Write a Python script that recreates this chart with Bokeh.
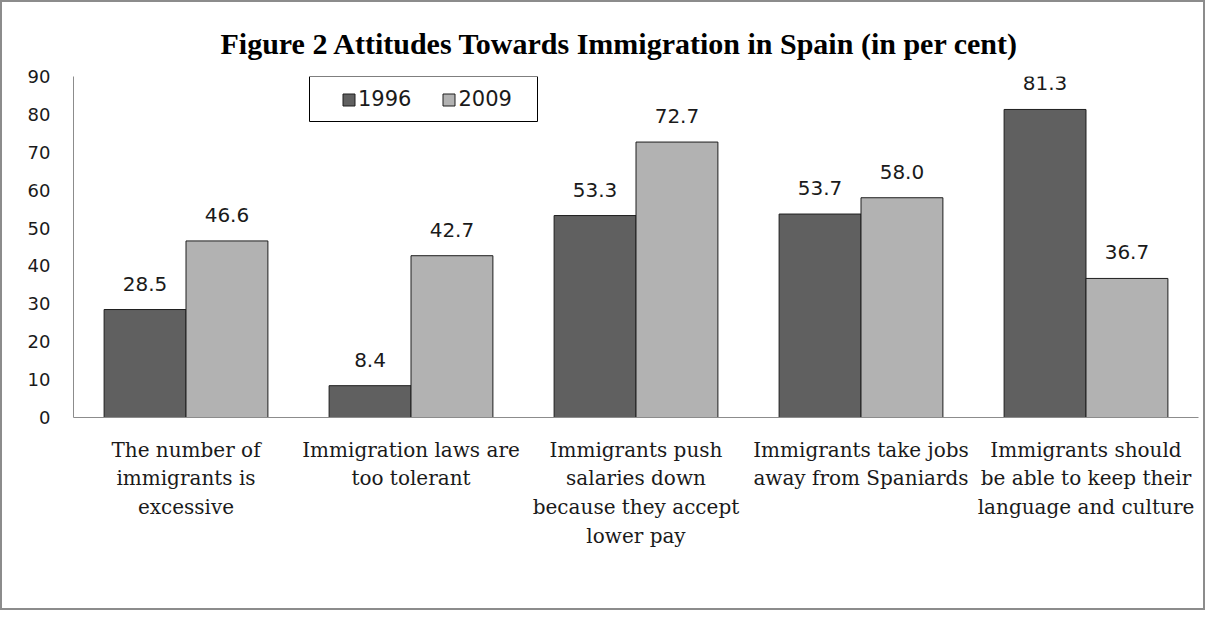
from bokeh.plotting import figure
from bokeh.models import (ColumnDataSource, FactorRange, Range1d, LabelSet, Legend,
                          LegendItem, BoxAnnotation, FixedTicker)
from bokeh.core.properties import value
from bokeh.transform import dodge
from bokeh.embed import file_html
from bokeh.resources import INLINE

# ---- data ----
categories = [
    "The number of\nimmigrants is\nexcessive",
    "Immigration laws are\ntoo tolerant",
    "Immigrants push\nsalaries down\nbecause they accept\nlower pay",
    "Immigrants take jobs\naway from Spaniards",
    "Immigrants should\nbe able to keep their\nlanguage and culture",
]
series = ["1996", "2009"]
values_1996 = [28.5, 8.4, 53.3, 53.7, 81.3]
values_2009 = [46.6, 42.7, 72.7, 58.0, 36.7]
y_ticks = [0, 10, 20, 30, 40, 50, 60, 70, 80, 90]
title_text = "Figure 2 Attitudes Towards Immigration in Spain (in per cent)"

src = ColumnDataSource(dict(
    cat=categories,
    v1996=values_1996,
    v2009=values_2009,
    l1996=[f"{v:.1f}" for v in values_1996],
    l2009=[f"{v:.1f}" for v in values_2009],
))

p = figure(x_range=FactorRange(*categories), y_range=Range1d(0, 90),
           width=1205, height=610, output_backend="svg", toolbar_location=None,
           min_border_left=71, min_border_right=9, min_border_top=74,
           min_border_bottom=195)
p.styles = {"border": "2px solid #8c8c8c"}

p.title.text = title_text
p.title.align = "left"
p.title.offset = 147
p.title.text_font = "Liberation Serif"
p.title.text_font_size = "30px"
p.title.text_font_style = "bold"
p.title.text_color = "#000000"
p.title.standoff = 34

bar_w = 0.364
r1 = p.vbar(x=dodge("cat", -0.182, range=p.x_range), top="v1996", width=bar_w,
            source=src, fill_color="#606060", line_color="#1e1e1e", line_width=1)
r2 = p.vbar(x=dodge("cat", 0.182, range=p.x_range), top="v2009", width=bar_w,
            source=src, fill_color="#b2b2b2", line_color="#1e1e1e", line_width=1)

for off, vcol, lcol in [(-0.182, "v1996", "l1996"), (0.182, "v2009", "l2009")]:
    p.add_layout(LabelSet(x=dodge("cat", off, range=p.x_range), y=vcol, text=lcol,
                          source=src, y_offset=26, text_align="center",
                          text_baseline="middle", text_font=value("DejaVu Sans"),
                          text_font_size=value("20px"), text_color="#1a1a1a"))

p.xgrid.grid_line_color = None
p.ygrid.grid_line_color = None
p.outline_line_color = None

p.xaxis.axis_line_color = "#8c8c8c"
p.xaxis.major_tick_line_color = None
p.xaxis.minor_tick_line_color = None
p.xaxis.major_label_text_font = "DejaVu Serif"
p.xaxis.major_label_text_font_size = "20px"
p.xaxis.major_label_text_color = "#1a1a1a"
p.xaxis.major_label_standoff = 14

p.yaxis.ticker = FixedTicker(ticks=y_ticks)
p.yaxis.axis_line_color = "#8c8c8c"
p.yaxis.major_tick_line_color = None
p.yaxis.minor_tick_line_color = None
p.yaxis.major_tick_out = 0
p.yaxis.major_label_standoff = 23
p.yaxis.major_label_text_font = "DejaVu Sans"
p.yaxis.major_label_text_font_size = "18px"
p.yaxis.major_label_text_color = "#1a1a1a"

box = BoxAnnotation(left=236, right=464, top=341, bottom=296,
                    left_units="screen", right_units="screen",
                    top_units="screen", bottom_units="screen",
                    fill_color="white", fill_alpha=1.0,
                    line_color="#000000", line_width=1, line_alpha=1.0)
p.add_layout(box)

legend = Legend(items=[LegendItem(label=series[0], renderers=[r1]),
                       LegendItem(label=series[1], renderers=[r2])],
                location=(268, 306), orientation="horizontal",
                glyph_width=15, glyph_height=15, label_standoff=2, spacing=30,
                padding=0, margin=0, border_line_color=None,
                background_fill_alpha=0, label_text_font="DejaVu Sans",
                label_text_font_size="21px", label_text_color="#1a1a1a")
p.add_layout(legend)

open("out.html", "w").write(file_html(p, INLINE))
